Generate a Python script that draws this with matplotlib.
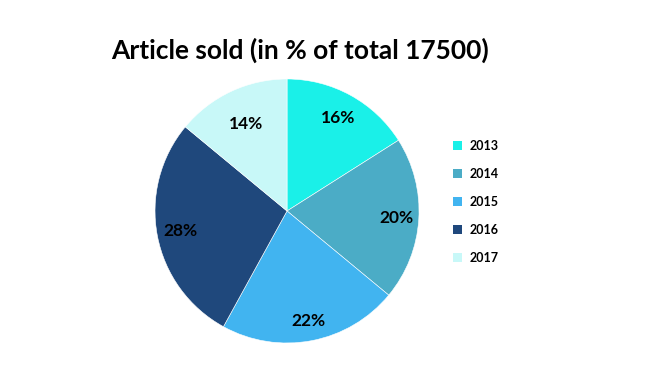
import numpy as np
import matplotlib.pyplot as plt
from matplotlib.patches import Patch

years = ["2013", "2014", "2015", "2016", "2017"]
shares = [16, 20, 22, 28, 14]
colors = ["#1AF0E8", "#4BACC6", "#41B4F0", "#1F487C", "#C8F8F8"]
# how far out each % label sits (fraction of radius)
label_dist = [0.8, 0.83, 0.85, 0.82, 0.73]

plt.rcParams["font.family"] = ["Lato", "DejaVu Sans"]

fig = plt.figure(figsize=(6.53, 3.77), dpi=100)
ax = fig.add_axes([0.2374, 0.0902, 0.4043, 0.7003])

wedges, texts, autotexts = ax.pie(
    shares,
    colors=colors,
    startangle=90,
    counterclock=False,
    autopct="%1.0f%%",
    pctdistance=0.8,
    wedgeprops=dict(edgecolor="white", linewidth=0.4),
    textprops=dict(fontsize=12.5, fontweight="bold", color="black"),
)
for w, t, d in zip(wedges, autotexts, label_dist):
    ang = np.deg2rad((w.theta1 + w.theta2) / 2)
    t.set_position((d * np.cos(ang), d * np.sin(ang)))

ax.set_xlim(-1, 1)
ax.set_ylim(-1, 1)
ax.set_aspect("equal")

fig.text(0.46, 0.867, "Article sold (in % of total 17500)",
         ha="center", va="center", fontsize=19, fontweight="bold")

handles = [Patch(facecolor=c, edgecolor="none") for c in colors]
fig.legend(handles, years, loc="upper left", bbox_to_anchor=(0.693, 0.628),
           frameon=False, prop=dict(weight="bold", size=9),
           handlelength=0.75, handleheight=0.75, handletextpad=0.6,
           labelspacing=1.28, borderpad=0, borderaxespad=0)

fig.savefig("out.png", dpi=100)
